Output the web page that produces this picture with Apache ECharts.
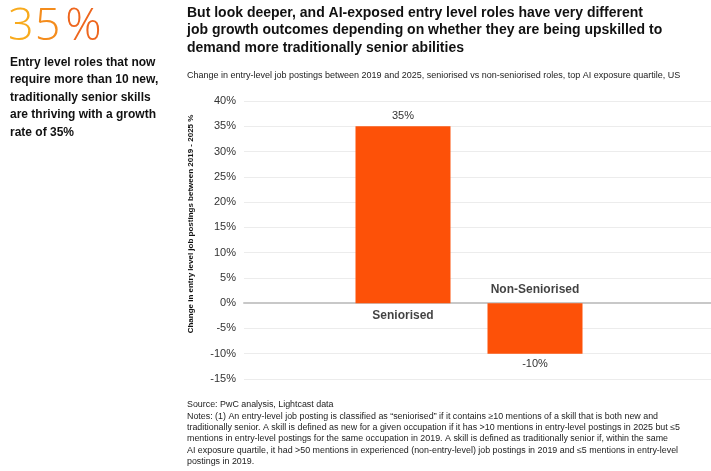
<!DOCTYPE html>
<html><head><meta charset="utf-8">
<script src="https://cdn.jsdelivr.net/npm/echarts@6/dist/echarts.min.js"></script>
<style>html,body{margin:0;padding:0;background:#fff}#c{width:711px;height:471px}</style>
</head><body><div id="c"></div>
<script>
const categories = ['Seniorised', 'Non-Seniorised'];
const growth = [35, -10];
const yMin = -15, yMax = 40, yStep = 5;
const headline = '35%';
const sideText = 'Entry level roles that now\nrequire more than 10 new,\ntraditionally senior skills\nare thriving with a growth\nrate of 35%';
const titleText = 'But look deeper, and AI-exposed entry level roles have very different\njob growth outcomes depending on whether they are being upskilled to\ndemand more traditionally senior abilities';
const subtitleText = 'Change in entry-level job postings between 2019 and 2025, seniorised vs non-seniorised roles, top AI exposure quartile, US';
const yAxisTitle = 'Change in entry level job postings between 2019 - 2025 %';
const notesText = 'Source: PwC analysis, Lightcast data\nNotes: (1) An entry-level job posting is classified as \u201cseniorised\u201d if it contains \u226510 mentions of a skill that is both new and\ntraditionally senior. A skill is defined as new for a given occupation if it has >10 mentions in entry-level postings in 2025 but \u22645\nmentions in entry-level postings for the same occupation in 2019. A skill is defined as traditionally senior if, within the same\nAI exposure quartile, it had >50 mentions in experienced (non-entry-level) job postings in 2019 and \u22645 mentions in entry-level\npostings in 2019.';

const FONT = '"Liberation Sans", Arial, Helvetica, sans-serif';
const HEAD_FONT = '300 45px "Open Sans", Roboto, "Liberation Sans", sans-serif';
const ORANGE = '#FD5108';
const headlineColors = ['#F8AA1C', '#F48C1C', '#EE661E'];
const headlineGaps = [1, 5, 0];
const chart = echarts.init(document.getElementById('c'));

const headlineRich = {};
headlineColors.forEach((col, i) => {
  headlineRich['c' + i] = { fill: col, font: HEAD_FONT, padding: [0, headlineGaps[i], 0, 0] };
});
const headlineText = headline.split('').map((ch, i) => '{c' + i + '|' + ch + '}').join('');

chart.setOption({
  backgroundColor: '#fff',
  animation: false,
  textStyle: { fontFamily: FONT },
  grid: [
    { left: 244, right: 0, top: 101, bottom: 92 },
    { left: 337, right: 110, top: 101, bottom: 92 }
  ],
  xAxis: [
    { gridIndex: 0, type: 'category', data: [''], axisTick: { show: false }, axisLabel: { show: false },
      axisLine: { show: true, onZero: true, lineStyle: { color: '#c8c8c8', width: 2 } } },
    { gridIndex: 1, type: 'category', data: categories, show: false }
  ],
  yAxis: [
    { gridIndex: 0, type: 'value', min: yMin, max: yMax, interval: yStep,
      axisLine: { show: false }, axisTick: { show: false },
      axisLabel: { formatter: '{value}%', color: '#333', fontSize: 11, margin: 8, fontFamily: FONT },
      splitLine: { lineStyle: { color: '#ececec', width: 1 } } },
    { gridIndex: 1, type: 'value', min: yMin, max: yMax, interval: yStep, show: false, splitLine: { show: false } }
  ],
  series: [
    { type: 'bar', xAxisIndex: 1, yAxisIndex: 1, barWidth: 95,
      itemStyle: { color: ORANGE },
      data: growth.map(v => ({
        value: v,
        label: { show: true, position: v >= 0 ? 'top' : 'bottom', distance: 5,
          formatter: '{c}%', color: '#333', fontSize: 11, fontFamily: FONT }
      })) },
    { type: 'scatter', xAxisIndex: 1, yAxisIndex: 1, symbolSize: 0, silent: true,
      data: categories.map((c, i) => ({
        value: 0,
        label: { show: true, position: growth[i] >= 0 ? 'bottom' : 'top', distance: 7,
          formatter: c, color: '#111', fontSize: 12, fontWeight: 'bold', fontFamily: FONT }
      })) }
  ],
  graphic: [
    { type: 'text', left: 8, top: 5,
      style: { text: headlineText, rich: headlineRich, font: HEAD_FONT } },
    { type: 'text', left: 10, top: 54,
      style: { text: sideText, font: 'bold 12px ' + FONT, fill: '#111', lineHeight: 17.4 } },
    { type: 'text', left: 187, top: 4,
      style: { text: titleText, font: 'bold 14px ' + FONT, fill: '#111', lineHeight: 17.5 } },
    { type: 'text', left: 187, top: 71,
      style: { text: subtitleText, font: '9px ' + FONT, fill: '#222' } },
    { type: 'text', x: 191, y: 224, rotation: Math.PI / 2,
      style: { text: yAxisTitle, font: 'bold 8px ' + FONT, fill: '#111', align: 'center', verticalAlign: 'middle' } },
    { type: 'text', left: 187, top: 399,
      style: { text: notesText, font: '8.9px ' + FONT, fill: '#222', lineHeight: 11.4 } }
  ]
});
</script></body></html>
